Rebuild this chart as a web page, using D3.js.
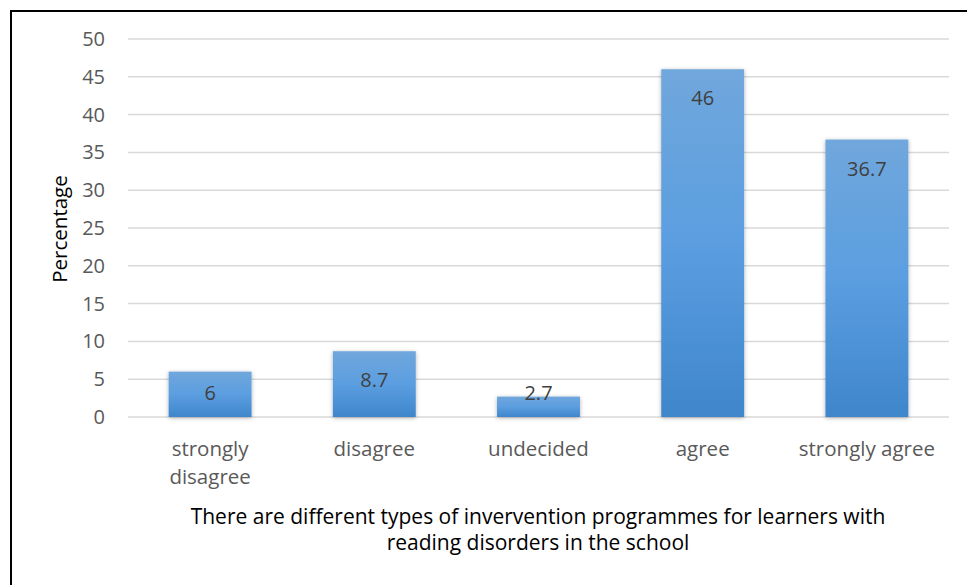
<!DOCTYPE html>
<html><head><meta charset="utf-8">
<script src="https://cdn.jsdelivr.net/npm/d3@7"></script>
<style>body{margin:0;background:#fff}svg{display:block}text{font-family:"Open Sans",sans-serif}</style>
</head><body>
<svg id="c" width="967" height="585"></svg>
<script>
const categories = [["strongly","disagree"],["disagree"],["undecided"],["agree"],["strongly agree"]];
const values = [6, 8.7, 2.7, 46, 36.7];
const yTicks = [0,5,10,15,20,25,30,35,40,45,50];
const yTitle = "Percentage";
const xTitle = ["There are different types of invervention programmes for learners with","reading disorders in the school"];

const svg = d3.select("#c");
const defs = svg.append("defs");
const g1 = defs.append("linearGradient").attr("id","bg").attr("x1",0).attr("y1",0).attr("x2",0).attr("y2",1);
g1.append("stop").attr("offset","0%").attr("stop-color","#70a7dc");
g1.append("stop").attr("offset","50%").attr("stop-color","#5b9ee0");
g1.append("stop").attr("offset","100%").attr("stop-color","#3f86cb");
const f = defs.append("filter").attr("id","sh").attr("x","-20%").attr("y","-20%").attr("width","140%").attr("height","140%");
f.append("feDropShadow").attr("dx",0).attr("dy",1).attr("stdDeviation",2).attr("flood-color","#000").attr("flood-opacity",0.3);

// border
svg.append("path").attr("d","M11,585 V11 H967").attr("fill","none").attr("stroke","#000").attr("stroke-width",2);

const x = d3.scaleBand().domain(d3.range(values.length)).range([128,949]).paddingInner(0.495).paddingOuter(0.2475);
const y = d3.scaleLinear().domain([0,50]).range([417,39]);

svg.append("g").selectAll("line").data(yTicks).join("line")
  .attr("x1",128).attr("x2",949).attr("y1",d=>y(d)).attr("y2",d=>y(d))
  .attr("stroke","#d9d9d9").attr("stroke-width",1.5);

const yAxis = d3.axisLeft(y).tickValues(yTicks).tickSize(0).tickPadding(0);
const ya = svg.append("g").attr("transform","translate(105,0)").call(yAxis);
ya.select(".domain").remove();
ya.selectAll("text").attr("font-size",20).attr("fill","#595959").attr("font-family","Open Sans");

svg.append("g").selectAll("rect").data(values).join("rect")
  .attr("x",(d,i)=>x(i)).attr("width",x.bandwidth())
  .attr("y",d=>y(d)).attr("height",d=>y(0)-y(d))
  .attr("fill","url(#bg)").attr("filter","url(#sh)");

svg.append("g").selectAll("text").data(values).join("text")
  .attr("x",(d,i)=>x(i)+x.bandwidth()/2).attr("y",d=>Math.min(y(d)+36, y(0)-17))
  .attr("text-anchor","middle").attr("font-size",20).attr("fill","#404040")
  .text(d=>d);

const xa = svg.append("g").selectAll("text").data(categories).join("text")
  .attr("x",(d,i)=>x(i)+x.bandwidth()/2).attr("y",456)
  .attr("text-anchor","middle").attr("font-size",20.5).attr("fill","#595959");
xa.selectAll("tspan").data(d=>d).join("tspan")
  .attr("x",function(){return this.parentNode.getAttribute("x");})
  .attr("dy",(d,i)=>i===0?0:28).text(d=>d);

svg.append("text").attr("transform","translate(67,229) rotate(-90)")
  .attr("text-anchor","middle").attr("font-size",20.5).attr("fill","#000").text(yTitle);

svg.append("g").selectAll("text").data(xTitle).join("text")
  .attr("x",538).attr("y",(d,i)=>524+i*26)
  .attr("text-anchor","middle").attr("font-size",21).attr("fill","#000").text(d=>d);
</script>
</body></html>
